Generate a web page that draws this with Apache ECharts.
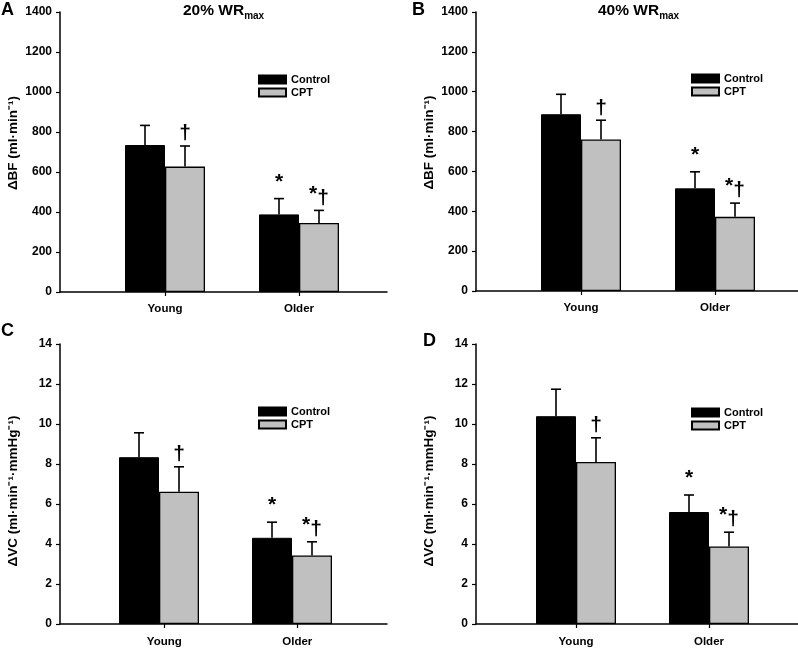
<!DOCTYPE html>
<html><head><meta charset="utf-8">
<script src="https://cdn.jsdelivr.net/npm/echarts@6/dist/echarts.min.js"></script>
<style>html,body{margin:0;padding:0;background:#fff}#c{width:798px;height:648px}</style>
</head><body><div id="c"></div>
<script>
// ---------- data ----------
const categories = ['Young', 'Older'];
const seriesNames = ['Control', 'CPT'];

const bfTicks = [0, 200, 400, 600, 800, 1000, 1200, 1400];
const vcTicks = [0, 2, 4, 6, 8, 10, 12, 14];

// Panel A: ΔBF, 20% WRmax
const bf20Control = [735, 388];
const bf20ControlErr = [98, 79];
const bf20CPT = [627, 345];
const bf20CPTErr = [103, 63];

// Panel B: ΔBF, 40% WRmax
const bf40Control = [887, 515];
const bf40ControlErr = [100, 83];
const bf40CPT = [760, 372];
const bf40CPTErr = [97, 69];

// Panel C: ΔVC, 20% WRmax
const vc20Control = [8.34, 4.31];
const vc20ControlErr = [1.22, 0.78];
const vc20CPT = [6.61, 3.43];
const vc20CPTErr = [1.25, 0.68];

// Panel D: ΔVC, 40% WRmax
const vc40Control = [10.39, 5.60];
const vc40ControlErr = [1.35, 0.85];
const vc40CPT = [8.10, 3.88];
const vc40CPTErr = [1.21, 0.71];

const controlMarks = ['', '*'];
const cptMarks = ['\u2020', '*\u2020'];

const bfName = '\u0394BF (ml\u00B7min\u207B\u00B9)';
const vcName = '\u0394VC (ml\u00B7min\u207B\u00B9\u00B7mmHg\u207B\u00B9)';

// ---------- layout ----------
const FONT = '"Liberation Sans", Arial, Helvetica, sans-serif';
const BAR_W = 40;
const CPT_COLOR = '#c0c0c0';
const MARK_SIZE = 21;

const measureCtx = document.createElement('canvas').getContext('2d');
measureCtx.font = 'bold ' + MARK_SIZE + 'px ' + FONT;

const panels = [
  {letter: 'A', letterPos: [1, 1], title: '20% WR', titlePos: [183, 1],
   grid: {left: 60, top: 12, width: 327, height: 280}, xMin: 0.2164, xMax: 2.6567, tickShift: 0,
   ticks: bfTicks, yName: bfName, namePad: [0, 0, 0, 18],
   ctrl: bf20Control, ctrlErr: bf20ControlErr, cpt: bf20CPT, cptErr: bf20CPTErr,
   legend: [258, 74]},
  {letter: 'B', letterPos: [412, 1], title: '40% WR', titlePos: [598, 1],
   grid: {left: 476, top: 12, width: 322, height: 279}, xMin: 0.2164, xMax: 2.6194, tickShift: 0,
   ticks: bfTicks, yName: bfName, namePad: [0, 0, 0, 18],
   ctrl: bf40Control, ctrlErr: bf40ControlErr, cpt: bf40CPT, cptErr: bf40CPTErr,
   legend: [691, 73]},
  {letter: 'C', letterPos: [1, 322], title: null,
   grid: {left: 60, top: 344, width: 327, height: 280}, xMin: 0.2556, xMax: 2.7143, tickShift: 0.04,
   ticks: vcTicks, yName: vcName, namePad: [0, 14, 0, 0],
   ctrl: vc20Control, ctrlErr: vc20ControlErr, cpt: vc20CPT, cptErr: vc20CPTErr,
   legend: [258, 406]},
  {letter: 'D', letterPos: [423, 332], title: null,
   grid: {left: 476, top: 344, width: 322, height: 281}, xMin: 0.2481, xMax: 2.6692, tickShift: 0,
   ticks: vcTicks, yName: vcName, namePad: [0, 14, 0, 0],
   ctrl: vc40Control, ctrlErr: vc40ControlErr, cpt: vc40CPT, cptErr: vc40CPTErr,
   legend: [691, 407]}
];

const grids = [], xAxes = [], yAxes = [], series = [], titles = [], legends = [];

function markElements(mark, cx, baseY) {
  const chars = Array.from(mark);
  const widths = chars.map(ch => measureCtx.measureText(ch).width);
  const total = widths.reduce((a, b) => a + b, 0);
  let x = cx - total / 2;
  return chars.map((ch, k) => {
    const el = {type: 'text', x: x, y: baseY - (ch === '*' ? 4 : 0),
      style: {text: ch, fill: '#000', fontSize: MARK_SIZE, fontWeight: 'bold', fontFamily: FONT,
              align: 'left', verticalAlign: 'bottom'}};
    x += widths[k];
    return el;
  });
}

function errSeries(i, values, errs, marks, offset) {
  return {
    type: 'custom', name: 'err' + i + offset, xAxisIndex: i, yAxisIndex: i, z: 5,
    silent: true,
    data: categories.map((c, j) => [j + 1, values[j], errs[j]]),
    renderItem: function (params, api) {
      const x = api.value(0), v = api.value(1), e = api.value(2);
      const p0 = api.coord([x, v]);
      const p1 = api.coord([x, v + e]);
      const cx = p0[0] + offset;
      const mark = marks[params.dataIndex];
      let children = [
        {type: 'line', shape: {x1: cx, y1: p0[1], x2: cx, y2: p1[1]}, style: {stroke: '#000', lineWidth: 1.6}},
        {type: 'line', shape: {x1: cx - 5, y1: p1[1], x2: cx + 5, y2: p1[1]}, style: {stroke: '#000', lineWidth: 1.6}}
      ];
      if (mark) children = children.concat(markElements(mark, cx, p1[1] - 2));
      return {type: 'group', children: children};
    }
  };
}

panels.forEach((p, i) => {
  grids.push(Object.assign({containLabel: false}, p.grid));
  const tv = [1 + p.tickShift, 2 + p.tickShift];
  xAxes.push({
    type: 'value', gridIndex: i, min: p.xMin, max: p.xMax,
    axisLine: {show: true, onZero: false, lineStyle: {color: '#000', width: 1.5}},
    axisTick: {show: true, customValues: tv, length: 4, lineStyle: {color: '#000', width: 1.2}},
    axisLabel: {show: true, customValues: tv, margin: i < 2 ? 11 : 12, color: '#000', fontWeight: 'bold',
      fontSize: 11.5, fontFamily: FONT,
      formatter: v => categories[Math.round(v) - 1] || ''},
    splitLine: {show: false}
  });
  yAxes.push({
    type: 'value', gridIndex: i, min: p.ticks[0], max: p.ticks[p.ticks.length - 1],
    interval: p.ticks[1] - p.ticks[0],
    name: p.yName, nameLocation: 'middle', nameRotate: 90, nameGap: 40,
    nameTextStyle: {color: '#000', fontWeight: 'bold', fontSize: 13.5, fontFamily: FONT, padding: p.namePad},
    axisLine: {show: true, lineStyle: {color: '#000', width: 1.5}},
    axisTick: {show: true, inside: false, length: 4, lineStyle: {color: '#000', width: 1.2}},
    axisLabel: {color: '#000', fontWeight: 'bold', fontSize: 12, fontFamily: FONT, margin: 8,
      formatter: v => String(v)},
    splitLine: {show: false}
  });
  series.push({
    type: 'bar', name: seriesNames[0], xAxisIndex: i, yAxisIndex: i, barWidth: BAR_W, barGap: '0%',
    data: categories.map((c, j) => [j + 1, p.ctrl[j]]),
    itemStyle: {color: '#000', borderColor: '#000', borderWidth: 1}
  });
  series.push({
    type: 'bar', name: seriesNames[1], xAxisIndex: i, yAxisIndex: i, barWidth: BAR_W, barGap: '0%',
    data: categories.map((c, j) => [j + 1, p.cpt[j]]),
    itemStyle: {color: CPT_COLOR, borderColor: '#000', borderWidth: 1.3}
  });
  series.push(errSeries(i, p.ctrl, p.ctrlErr, controlMarks, -BAR_W / 2));
  series.push(errSeries(i, p.cpt, p.cptErr, cptMarks, BAR_W / 2));

  titles.push({text: p.letter, left: p.letterPos[0], top: p.letterPos[1], padding: 0,
    textStyle: {color: '#000', fontSize: 18, fontWeight: 'bold', fontFamily: FONT}});
  if (p.title) {
    titles.push({text: '{a|' + p.title + '}{b|max}', left: p.titlePos[0], top: p.titlePos[1], padding: 0,
      textStyle: {rich: {
        a: {fontSize: 15.5, fontWeight: 'bold', fontFamily: FONT, color: '#000', lineHeight: 20},
        b: {fontSize: 10, fontWeight: 'bold', fontFamily: FONT, color: '#000', verticalAlign: 'bottom', lineHeight: 11}
      }}});
  }
  legends.push({
    data: seriesNames, orient: 'vertical', left: p.legend[0], top: p.legend[1], padding: 0,
    itemWidth: 27, itemHeight: 8, itemGap: 2, icon: 'rect', selectedMode: false,
    textStyle: {color: '#000', fontWeight: 'bold', fontSize: 11, fontFamily: FONT}
  });
});

const chart = echarts.init(document.getElementById('c'), null, {renderer: 'canvas'});
chart.setOption({
  animation: false,
  backgroundColor: '#fff',
  textStyle: {fontFamily: FONT},
  title: titles,
  legend: legends,
  grid: grids,
  xAxis: xAxes,
  yAxis: yAxes,
  series: series
});
</script>
</body></html>
